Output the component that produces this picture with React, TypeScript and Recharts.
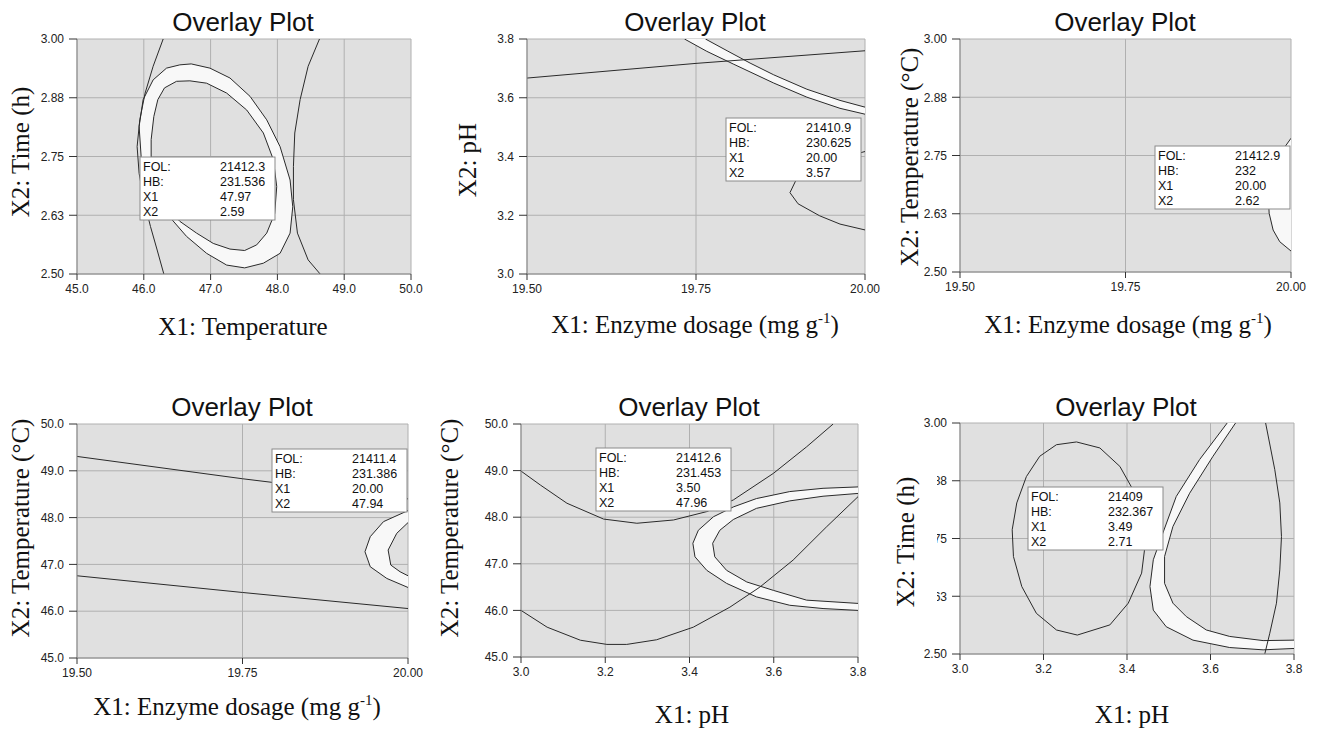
import React from 'react'
import { ComposedChart, Line, Area, XAxis, YAxis, CartesianGrid } from 'recharts'

document.body.style.margin = '0'

type P = [number, number]

const SANS = '"Liberation Sans", Arial, sans-serif'
const SERIF = '"Liberation Serif", "Times New Roman", serif'

// tick values
const tempTicks = [45, 46, 47, 48, 49, 50]
const timeTicks = [2.5, 2.625, 2.75, 2.875, 3.0]
const dosageTicks = [19.5, 19.75, 20.0]
const phTicks = [3.0, 3.2, 3.4, 3.6, 3.8]

// panel 1: temperature x time
const p1Left: P[] = [[46.29, 3.0], [46.14, 2.942], [46.02, 2.885], [45.94, 2.828], [45.9, 2.771], [45.93, 2.714], [46.0, 2.658], [46.1, 2.601], [46.2, 2.551], [46.3, 2.5]]
const p1Right: P[] = [[48.63, 3.0], [48.46, 2.942], [48.34, 2.871], [48.26, 2.8], [48.24, 2.729], [48.24, 2.658], [48.3, 2.587], [48.46, 2.53], [48.64, 2.5]]
const p1Outer: P[] = [[46.54, 2.945], [46.71, 2.947], [46.99, 2.938], [47.29, 2.917], [47.59, 2.878], [47.84, 2.828], [48.04, 2.771], [48.19, 2.7], [48.23, 2.643], [48.19, 2.587], [48.04, 2.544], [47.79, 2.523], [47.51, 2.513], [47.24, 2.519], [46.94, 2.544], [46.64, 2.58], [46.34, 2.629], [46.11, 2.686], [45.96, 2.75], [45.93, 2.814], [45.99, 2.871], [46.14, 2.913], [46.34, 2.938]]
const p1Inner: P[] = [[46.49, 2.91], [46.69, 2.911], [46.94, 2.906], [47.24, 2.885], [47.54, 2.849], [47.79, 2.8], [47.94, 2.743], [47.99, 2.686], [47.96, 2.629], [47.84, 2.587], [47.69, 2.562], [47.51, 2.55], [47.29, 2.553], [47.04, 2.565], [46.79, 2.587], [46.54, 2.612], [46.34, 2.643], [46.19, 2.686], [46.11, 2.736], [46.11, 2.786], [46.15, 2.835], [46.21, 2.871], [46.31, 2.896]]

// panel 2: dosage x pH
const p2Flat: P[] = [[19.5, 3.667], [19.75, 3.717], [20.0, 3.76]]
const p2Upper: P[] = [[19.764, 3.8], [19.796, 3.76], [19.83, 3.718], [19.865, 3.678], [19.914, 3.629], [19.963, 3.591], [20.0, 3.568]]
const p2Lower: P[] = [[19.733, 3.8], [19.766, 3.758], [19.805, 3.715], [19.865, 3.65], [19.914, 3.602], [19.963, 3.564], [20.0, 3.544]]
const p2Hook: P[] = [[20.0, 3.417], [19.963, 3.394], [19.914, 3.349], [19.898, 3.32], [19.889, 3.277], [19.901, 3.239], [19.933, 3.198], [19.963, 3.17], [20.0, 3.15]]

// panel 3: dosage x time
const p3Edge: P[] = [[20.0, 2.787], [19.991, 2.769], [19.973, 2.712], [19.966, 2.654], [19.967, 2.626], [19.973, 2.59], [19.983, 2.565], [20.0, 2.545]]

// panel 4: dosage x temperature
const p4Top: P[] = [[19.5, 49.307], [19.75, 48.83], [20.0, 48.4]]
const p4Bottom: P[] = [[19.5, 46.757], [19.75, 46.4], [20.0, 46.057]]
const p4Outer: P[] = [[20.0, 48.15], [19.963, 47.914], [19.943, 47.593], [19.935, 47.271], [19.943, 46.95], [19.968, 46.7], [20.0, 46.507]]
const p4Inner: P[] = [[20.0, 47.893], [19.983, 47.664], [19.97, 47.307], [19.974, 46.986], [19.988, 46.843], [20.0, 46.757]]

// panel 5: pH x temperature
const p5Upper: P[] = [[3.0, 48.99], [3.046, 48.69], [3.109, 48.3], [3.196, 47.96], [3.275, 47.87], [3.362, 47.94], [3.441, 48.12], [3.504, 48.37], [3.599, 48.94], [3.678, 49.51], [3.741, 50.0]]
const p5Lower: P[] = [[3.0, 46.0], [3.062, 45.64], [3.141, 45.36], [3.204, 45.27], [3.251, 45.27], [3.322, 45.37], [3.409, 45.64], [3.496, 46.07], [3.567, 46.5], [3.646, 47.08], [3.725, 47.79], [3.8, 48.44]]
const p5Outer: P[] = [[3.8, 48.65], [3.717, 48.62], [3.638, 48.55], [3.559, 48.4], [3.504, 48.22], [3.457, 48.01], [3.421, 47.72], [3.408, 47.44], [3.413, 47.15], [3.441, 46.86], [3.488, 46.58], [3.559, 46.29], [3.638, 46.11], [3.717, 46.04], [3.8, 46.0]]
const p5Inner: P[] = [[3.8, 48.51], [3.717, 48.45], [3.638, 48.35], [3.559, 48.19], [3.504, 47.95], [3.472, 47.72], [3.455, 47.44], [3.46, 47.15], [3.488, 46.86], [3.536, 46.61], [3.599, 46.43], [3.678, 46.22], [3.8, 46.15]]

// panel 6: pH x time
const p6Oval: P[] = [[3.279, 2.959], [3.335, 2.946], [3.383, 2.906], [3.419, 2.848], [3.439, 2.79], [3.443, 2.733], [3.435, 2.675], [3.403, 2.61], [3.359, 2.563], [3.281, 2.541], [3.231, 2.552], [3.183, 2.588], [3.148, 2.646], [3.128, 2.711], [3.125, 2.769], [3.136, 2.827], [3.159, 2.884], [3.191, 2.928], [3.231, 2.953]]
const p6Tall: P[] = [[3.732, 3.0], [3.754, 2.899], [3.766, 2.827], [3.77, 2.754], [3.766, 2.682], [3.758, 2.61], [3.742, 2.545], [3.73, 2.5]]
const p6Outer: P[] = [[3.64, 3.0], [3.574, 2.921], [3.518, 2.841], [3.486, 2.762], [3.463, 2.704], [3.455, 2.646], [3.463, 2.595], [3.494, 2.559], [3.558, 2.53], [3.646, 2.514], [3.726, 2.509], [3.8, 2.512]]
const p6Inner: P[] = [[3.66, 3.0], [3.606, 2.928], [3.55, 2.848], [3.51, 2.776], [3.49, 2.711], [3.49, 2.653], [3.51, 2.61], [3.542, 2.581], [3.59, 2.552], [3.646, 2.538], [3.726, 2.529], [3.8, 2.53]]

// flag boxes
const flagLabels = ['FOL:', 'HB:', 'X1', 'X2']
const flag1 = ['21412.3', '231.536', '47.97', '2.59']
const flag2 = ['21410.9', '230.625', '20.00', '3.57']
const flag3 = ['21412.9', '232', '20.00', '2.62']
const flag4 = ['21411.4', '231.386', '20.00', '47.94']
const flag5 = ['21412.6', '231.453', '3.50', '47.96']
const flag6 = ['21409', '232.367', '3.49', '2.71']

const toObj = (a: P[]) => a.map(([x, y]) => ({ x, y }))
const closed = (a: P[]) => toObj([...a, a[0]])
const ring = (o: P[], i: P[]) => toObj([...o, o[0], i[0], ...i.slice(1).reverse(), i[0], o[0]])
const band = (a: P[], b: P[]) => toObj([...a, ...[...b].reverse(), a[0]])

type Cfg = {
  left: number; top: number; right: number; bottom: number
  xTicks: number[]; yTicks: number[]; xd: number; yd: number
  fills: { x: number; y: number }[][]
  lines: { x: number; y: number }[][]
}

const panels: Cfg[] = [
  { left: 77, top: 39, right: 411, bottom: 274, xTicks: tempTicks, yTicks: timeTicks, xd: 1, yd: 2,
    fills: [ring(p1Outer, p1Inner)], lines: [toObj(p1Left), toObj(p1Right), closed(p1Outer), closed(p1Inner)] },
  { left: 527, top: 39, right: 865, bottom: 274, xTicks: dosageTicks, yTicks: phTicks, xd: 2, yd: 1,
    fills: [band(p2Upper, p2Lower)], lines: [toObj(p2Flat), toObj(p2Upper), toObj(p2Lower), toObj(p2Hook)] },
  { left: 960, top: 39, right: 1291, bottom: 272, xTicks: dosageTicks, yTicks: timeTicks, xd: 2, yd: 2,
    fills: [closed(p3Edge)], lines: [toObj(p3Edge)] },
  { left: 77, top: 424, right: 408, bottom: 658, xTicks: dosageTicks, yTicks: tempTicks, xd: 2, yd: 1,
    fills: [band(p4Outer, p4Inner)], lines: [toObj(p4Top), toObj(p4Bottom), toObj(p4Outer), toObj(p4Inner)] },
  { left: 521, top: 424, right: 858, bottom: 657, xTicks: phTicks, yTicks: tempTicks, xd: 1, yd: 1,
    fills: [band(p5Outer, p5Inner)], lines: [toObj(p5Upper), toObj(p5Lower), toObj(p5Outer), toObj(p5Inner)] },
  { left: 960, top: 423, right: 1294, bottom: 654, xTicks: phTicks, yTicks: timeTicks, xd: 1, yd: 2,
    fills: [band(p6Outer, p6Inner)], lines: [closed(p6Oval), toObj(p6Tall), toObj(p6Outer), toObj(p6Inner)] },
]

const tickStyle = { fontSize: 12, fill: '#222', fontFamily: SANS }

function Panel({ c }: { c: Cfg }) {
  const w = c.right - c.left
  const h = c.bottom - c.top
  const xDom = [c.xTicks[0], c.xTicks[c.xTicks.length - 1]]
  const yDom = [c.yTicks[0], c.yTicks[c.yTicks.length - 1]]
  return (
    <div style={{ position: 'absolute', left: c.left - 70, top: c.top - 10 }}>
      <ComposedChart width={w + 96} height={h + 50} margin={{ top: 10, right: 26, left: 0, bottom: 0 }}>
        <CartesianGrid fill="#e0e0e0" fillOpacity={1} stroke="#b0b0b0" />
        <XAxis type="number" dataKey="x" domain={xDom} ticks={c.xTicks} interval={0} allowDataOverflow
          height={40} tickSize={6} tickMargin={4} tick={tickStyle}
          tickFormatter={(v: number) => v.toFixed(c.xd)}
          axisLine={{ stroke: '#8a8a8a' }} tickLine={{ stroke: '#333' }} />
        <YAxis type="number" domain={yDom} ticks={c.yTicks} interval={0} allowDataOverflow
          width={70} tickSize={8} tickMargin={5} tick={tickStyle}
          tickFormatter={(v: number) => v.toFixed(c.yd)}
          axisLine={{ stroke: '#8a8a8a' }} tickLine={{ stroke: '#333' }} />
        {c.fills.map((d, i) => (
          <Area key={'f' + i} data={d} dataKey="y" type="linear" fill="#f8f8f8" fillOpacity={1}
            stroke="none" dot={false} activeDot={false} isAnimationActive={false} />
        ))}
        {c.lines.map((d, i) => (
          <Line key={'l' + i} data={d} dataKey="y" type="linear" stroke="#2a2a2a" strokeWidth={1}
            dot={false} activeDot={false} isAnimationActive={false} />
        ))}
      </ComposedChart>
    </div>
  )
}

function Flag({ x, y, values }: { x: number; y: number; values: string[] }) {
  return (
    <g fontFamily={SANS} fontSize={12.5} fill="#111">
      <rect x={x} y={y} width={135} height={63} fill="#fff" stroke="#8a8a8a" />
      {flagLabels.map((l, i) => (
        <g key={l}>
          <text x={x + 3} y={y + 13.5 + i * 15.2}>{l}</text>
          <text x={x + 80} y={y + 13.5 + i * 15.2}>{values[i]}</text>
        </g>
      ))}
    </g>
  )
}

const titles = [[243, 31], [695, 31], [1125, 31], [242, 416], [689, 416], [1126, 416]]

function Dosage({ x, y }: { x: number; y: number }) {
  return (
    <text x={x} y={y} textAnchor="middle">
      X1: Enzyme dosage (mg g<tspan fontSize={15} dy={-10}>-1</tspan><tspan dy={10}>)</tspan>
    </text>
  )
}

function YLabel({ x, y, text }: { x: number; y: number; text: string }) {
  return <text transform={`translate(${x},${y}) rotate(-90)`} textAnchor="middle">{text}</text>
}

export default function App() {
  return (
    <div style={{ position: 'relative', width: 1320, height: 732, background: '#fff', overflow: 'hidden' }}>
      {panels.map((c, i) => <Panel key={i} c={c} />)}
      <svg width={1320} height={732} style={{ position: 'absolute', left: 0, top: 0, pointerEvents: 'none' }}>
        <rect x={918} y={468} width={19} height={142} fill="#fff" />
        <g fontFamily={SANS} fontSize={26} fill="#111">
          {titles.map(([x, y], i) => <text key={i} x={x} y={y} textAnchor="middle">Overlay Plot</text>)}
        </g>
        <g fontFamily={SERIF} fontSize={25} fill="#111">
          <text x={243} y={335} textAnchor="middle">X1: Temperature</text>
          <Dosage x={695} y={333} />
          <Dosage x={1128} y={333} />
          <Dosage x={237} y={715} />
          <text x={692} y={723} textAnchor="middle">X1: pH</text>
          <text x={1132} y={723} textAnchor="middle">X1: pH</text>
          <YLabel x={29} y={152} text="X2: Time (h)" />
          <YLabel x={476} y={160} text="X2: pH" />
          <YLabel x={918} y={157} text="X2: Temperature (°C)" />
          <YLabel x={29} y={528} text="X2: Temperature (°C)" />
          <YLabel x={458} y={528} text="X2: Temperature (°C)" />
          <YLabel x={914} y={542} text="X2: Time (h)" />
        </g>
        <Flag x={140} y={157} values={flag1} />
        <Flag x={726} y={118} values={flag2} />
        <Flag x={1155} y={146} values={flag3} />
        <Flag x={272} y={449} values={flag4} />
        <Flag x={596} y={448} values={flag5} />
        <Flag x={1028} y={487} values={flag6} />
      </svg>
    </div>
  )
}
